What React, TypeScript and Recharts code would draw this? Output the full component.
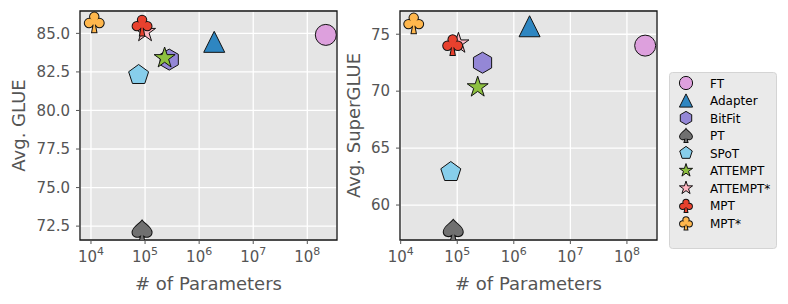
import React from 'react'
import { ScatterChart, Scatter, XAxis, YAxis, CartesianGrid, ReferenceArea } from 'recharts'

const methods = ['FT', 'Adapter', 'BitFit', 'PT', 'SPoT', 'ATTEMPT', 'ATTEMPT*', 'MPT', 'MPT*']
const markerKinds = ['circle', 'triangle', 'hexagon', 'spade', 'pentagon', 'star', 'star', 'club', 'club']
const markerColors = ['#DDA0DD', '#2E86C1', '#9487D6', '#707070', '#87CEEB', '#8DC03F', '#FFB6C1', '#E8412E', '#FFB74D']

const glueParams = [2.2e8, 1.9e6, 2.8e5, 8.8e4, 7.6e4, 2.3e5, 1.0e5, 8.8e4, 1.15e4]
const glueScores = [84.9, 84.45, 83.3, 72.2, 82.3, 83.4, 85.1, 85.55, 85.75]

const superGlueParams = [2.1e8, 1.9e6, 2.8e5, 8.5e4, 7.7e4, 2.3e5, 1.05e5, 8.3e4, 1.7e4]
const superGlueScores = [74.0, 75.7, 72.5, 57.8, 62.9, 70.35, 74.2, 74.1, 76.0]

const logTicks = [1e4, 1e5, 1e6, 1e7, 1e8]
const glueTicks = [72.5, 75, 77.5, 80, 82.5, 85]
const superGlueTicks = [60, 65, 70, 75]

const FONT = '"DejaVu Sans", sans-serif'
const INK = '#555555'

type Kind = string

function shapeParts(kind: Kind, cx: number, cy: number, r: number) {
  if (kind === 'club') {
    const c = 0.4 * r
    return (
      <>
        <circle cx={cx} cy={cy - 0.48 * r} r={c} />
        <circle cx={cx - 0.5 * r} cy={cy + 0.12 * r} r={c} />
        <circle cx={cx + 0.5 * r} cy={cy + 0.12 * r} r={c} />
        <circle cx={cx} cy={cy - 0.02 * r} r={0.3 * r} />
        <path d={`M${cx - 0.05 * r},${cy + 0.2 * r} L${cx - 0.2 * r},${cy + r} L${cx + 0.2 * r},${cy + r} L${cx + 0.05 * r},${cy + 0.2 * r} Z`} />
      </>
    )
  }
  // spade
  const s = r * 0.95
  const p = (x: number, y: number) => `${cx + x * s},${cy + y * s}`
  return (
    <path
      d={`M${p(0, -1)} C${p(0.3, -0.6)} ${p(1, -0.3)} ${p(0.95, 0.22)} C${p(0.9, 0.65)} ${p(0.35, 0.72)} ${p(0.08, 0.42)} L${p(0.22, 1.02)} L${p(-0.22, 1.02)} L${p(-0.08, 0.42)} C${p(-0.35, 0.72)} ${p(-0.9, 0.65)} ${p(-0.95, 0.22)} C${p(-1, -0.3)} ${p(-0.3, -0.6)} ${p(0, -1)} Z`}
    />
  )
}

function polygon(cx: number, cy: number, r: number, n: number) {
  const pts: string[] = []
  for (let k = 0; k < n; k++) {
    const a = -Math.PI / 2 + (k * 2 * Math.PI) / n
    pts.push(`${cx + r * Math.cos(a)},${cy + r * Math.sin(a)}`)
  }
  return pts.join(' ')
}

function starPts(cx: number, cy: number, r: number) {
  const pts: string[] = []
  for (let k = 0; k < 10; k++) {
    const a = -Math.PI / 2 + (k * Math.PI) / 5
    const rr = k % 2 === 0 ? r : r * 0.382
    pts.push(`${cx + rr * Math.cos(a)},${cy + rr * Math.sin(a)}`)
  }
  return pts.join(' ')
}

function MarkerShape({ kind, cx, cy, r, fill }: { kind: Kind; cx: number; cy: number; r: number; fill: string }) {
  const edge = { stroke: '#111', strokeWidth: 1 }
  if (kind === 'circle') return <circle cx={cx} cy={cy} r={r} fill={fill} {...edge} />
  if (kind === 'triangle')
    return <polygon points={`${cx},${cy - r} ${cx - r},${cy + r} ${cx + r},${cy + r}`} fill={fill} {...edge} />
  if (kind === 'hexagon') return <polygon points={polygon(cx, cy, r, 6)} fill={fill} {...edge} />
  if (kind === 'pentagon') return <polygon points={polygon(cx, cy, r, 5)} fill={fill} {...edge} />
  if (kind === 'star') return <polygon points={starPts(cx, cy, r * 1.05)} fill={fill} {...edge} />
  // club / spade: outline only around the union of parts
  return (
    <g>
      <g fill={fill} stroke="#111" strokeWidth={2}>{shapeParts(kind, cx, cy, r)}</g>
      <g fill={fill} stroke="none">{shapeParts(kind, cx, cy, r)}</g>
    </g>
  )
}

function LogTick(props: any) {
  const { x, y, payload } = props
  const exp = Math.round(Math.log10(payload.value))
  return (
    <text x={x} y={y + 16} textAnchor="middle" fill={INK} fontSize={15} fontFamily={FONT}>
      10<tspan dy={-7} fontSize={11}>{exp}</tspan>
    </text>
  )
}

interface PanelProps {
  left: number
  width: number
  marginRight: number
  yAxisWidth: number
  params: number[]
  scores: number[]
  xDomain: [number, number]
  yDomain: [number, number]
  yTicks: number[]
  yFmt: (v: number) => string
  yTitle: string
  yTitleX: number
}

function Panel({ left, width, marginRight, yAxisWidth, params, scores, xDomain, yDomain, yTicks, yFmt, yTitle, yTitleX }: PanelProps) {
  return (
    <div style={{ position: 'absolute', left, top: 0 }}>
      <ScatterChart width={width} height={304} margin={{ top: 11, right: marginRight, bottom: 24, left: 30 }}>
        <CartesianGrid fill="#E5E5E5" stroke="#ffffff" strokeWidth={1.3} />
        <XAxis
          dataKey="x"
          type="number"
          scale="log"
          domain={xDomain}
          ticks={logTicks}
          interval={0}
          allowDataOverflow
          height={40}
          axisLine={false}
          tickSize={4}
          tickLine={{ stroke: INK }}
          tick={<LogTick />}
          label={{
            content: (p: any) => {
              const vb = p.viewBox
              return (
                <text x={vb.x + vb.width / 2} y={vb.y + 50} textAnchor="middle" fill={INK} fontSize={18} fontFamily={FONT}>
                  # of Parameters
                </text>
              )
            },
          }}
        />
        <YAxis
          dataKey="y"
          type="number"
          domain={yDomain}
          ticks={yTicks}
          interval={0}
          allowDataOverflow
          width={yAxisWidth}
          axisLine={false}
          tickSize={4}
          tickMargin={6}
          tickLine={{ stroke: INK }}
          tickFormatter={yFmt}
          tick={{ fill: INK, fontSize: 15, fontFamily: FONT }}
          label={{
            content: (p: any) => {
              const vb = p.viewBox
              const cy = vb.y + vb.height / 2
              return (
                <text
                  x={yTitleX}
                  y={cy}
                  transform={`rotate(-90, ${yTitleX}, ${cy})`}
                  textAnchor="middle"
                  fill={INK}
                  fontSize={18}
                  fontFamily={FONT}
                >
                  {yTitle}
                </text>
              )
            },
          }}
        />
        {methods.map((m, i) => (
          <Scatter
            key={m}
            name={m}
            data={[{ x: params[i], y: scores[i] }]}
            isAnimationActive={false}
            shape={(p: any) => <MarkerShape kind={markerKinds[i]} cx={p.cx} cy={p.cy} r={10.5} fill={markerColors[i]} />}
          />
        ))}
        <ReferenceArea
          x1={xDomain[0]}
          x2={xDomain[1]}
          y1={yDomain[0]}
          y2={yDomain[1]}
          fill="none"
          stroke="#111"
          strokeWidth={1.3}
          ifOverflow="extendDomain"
        />
      </ScatterChart>
    </div>
  )
}

function Legend() {
  return (
    <svg width={109} height={178} style={{ position: 'absolute', left: 669, top: 72 }}>
      <rect x={0.5} y={0.5} width={107} height={176} rx={3} fill="#EAEAEA" stroke="#D4D4D4" />
      {methods.map((m, i) => {
        const cy = 11 + i * 17.5
        return (
          <g key={m}>
            <MarkerShape kind={markerKinds[i]} cx={17} cy={cy} r={6.6} fill={markerColors[i]} />
            <text x={41} y={cy + 4.5} fontSize={12} fontFamily={FONT} fill="#000">
              {m}
            </text>
          </g>
        )
      })}
    </svg>
  )
}

export default function App() {
  return (
    <div style={{ position: 'absolute', left: 0, top: 0, width: 788, height: 304, background: '#fff', fontFamily: FONT }}>
      <Panel
        left={0}
        width={345}
        marginRight={8}
        yAxisWidth={50}
        params={glueParams}
        scores={glueScores}
        xDomain={[6266, 3.54e8]}
        yDomain={[71.6, 86.45]}
        yTicks={glueTicks}
        yFmt={(v) => v.toFixed(1)}
        yTitle="Avg. GLUE"
        yTitleX={25}
      />
      <Panel
        left={340}
        width={320}
        marginRight={3}
        yAxisWidth={30}
        params={superGlueParams}
        scores={superGlueScores}
        xDomain={[9730, 3.4e8]}
        yDomain={[56.93, 77.04]}
        yTicks={superGlueTicks}
        yFmt={(v) => String(v)}
        yTitle="Avg. SuperGLUE"
        yTitleX={20}
      />
      <Legend />
    </div>
  )
}
